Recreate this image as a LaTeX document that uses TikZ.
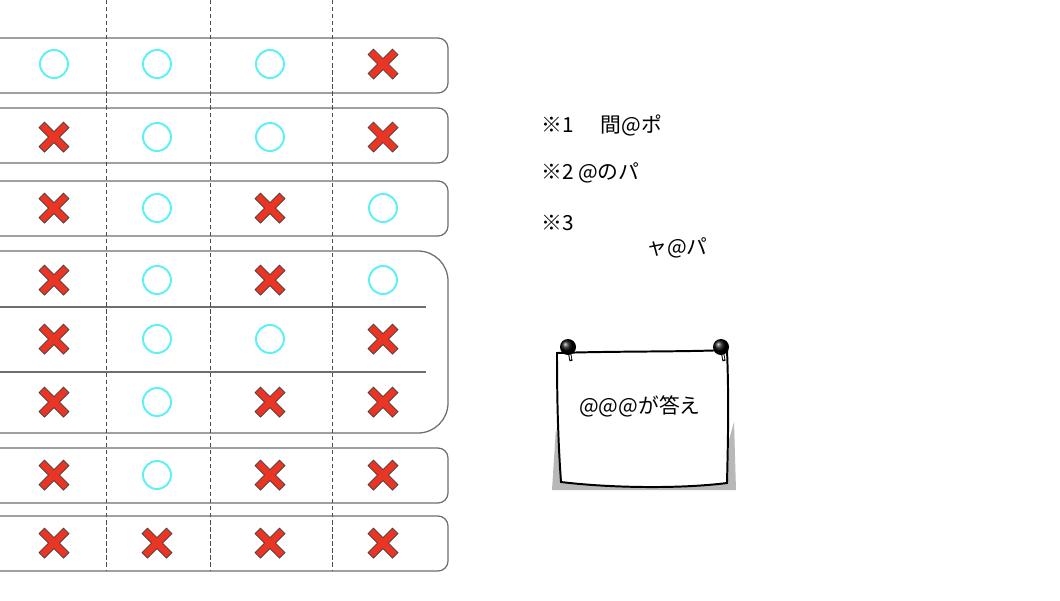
\documentclass[tikz,border=0pt]{standalone}
\usepackage{fontspec}
\setmainfont{Noto Sans CJK JP}
\definecolor{marucyan}{RGB}{95,240,245}
\definecolor{batsured}{RGB}{234,52,36}
\definecolor{rowgrey}{RGB}{110,110,110}
\begin{document}
\begin{tikzpicture}[x=0.025cm, y=-0.025cm,
    row/.style={draw=rowgrey, line width=0.9pt, rounded corners=0.25cm},
    sep/.style={draw=rowgrey, line width=0.9pt},
    col/.style={draw=black!70, line width=0.6pt, dash pattern=on 3pt off 2pt},
    maru/.pic={\draw [marucyan, line width=1.4pt] (0,0) circle [radius=0.35cm];},
    batsu/.pic={\filldraw [fill=batsured, draw=black!75, line width=0.5pt, line join=miter]
        (-9.5,-15) -- (0,-5.5) -- (9.5,-15) -- (15,-9.5) -- (5.5,0) -- (15,9.5)
        -- (9.5,15) -- (0,5.5) -- (-9.5,15) -- (-15,9.5) -- (-5.5,0) -- (-15,-9.5) -- cycle;},
    word/.style={font=\fontsize{14.8}{17}\selectfont, inner sep=0pt, anchor=west}]

    \path [use as bounding box, fill=white] (0,0) rectangle (1060,600);
    \clip (0,0) rectangle (1060,600);

    % rows
    \foreach \top/\bot in {38/93, 108/163, 181/236, 448/503, 516/571} {
        \draw [row] (-30,\top) rectangle (448,\bot);
    }
    \draw [row, rounded corners=0.75cm] (-40,251) rectangle (448,433);
    \draw [sep] (-20,307) -- (426,307);
    \draw [sep] (-20,372) -- (426,372);

    % columns
    \foreach \x in {106, 210, 332} {
        \draw [col] (\x,0) -- (\x,571);
    }

    % marks
    \foreach \y/\a/\b/\c/\d in {64/maru/maru/maru/batsu, 137/batsu/maru/maru/batsu,
            208/batsu/maru/batsu/maru, 280/batsu/maru/batsu/maru,
            339/batsu/maru/maru/batsu, 402/batsu/maru/batsu/batsu,
            475/batsu/maru/batsu/batsu, 543/batsu/batsu/batsu/batsu} {
        \pic at (54,\y) {\a};
        \pic at (157,\y) {\b};
        \pic at (270,\y) {\c};
        \pic at (383,\y) {\d};
    }

    % notes
    \node (note1) at (541,125) [word] {※1\hspace{1.3em}間@ポ};
    \node (note2) at (541,173) [word] {※2 @のパ};
    \node (note3) at (541,223) [word] {※3};
    \node (note3b) at (646,248) [word] {ャ@パ};

    % paper
    \fill [black!28] (556,428) -- (552,490) -- (736,490) -- (734,422) -- (729,440) -- (727,483) -- (561,482) -- (558,440) -- cycle;
    \filldraw [fill=white, line width=1.4pt]
        (557,353) .. controls (620,351) and (680,352) .. (727,350)
        .. controls (729,400) and (728,440) .. (727,483)
        .. controls (680,489) and (610,488) .. (561,482)
        .. controls (558,440) and (557,400) .. cycle;
    \node (answer) at (640,406) [word, anchor=center] {@@@が答え};

    % pins
    \foreach \x in {568, 721} {
        \draw [line width=2.2pt] (\x+1,350) -- (\x+3,361);
        \draw [white, line width=0.9pt] (\x+1.2,351) -- (\x+2.8,359.5);
        \shade [ball color=black] (\x,347) circle [radius=0.2cm];
    }
\end{tikzpicture}
\end{document}
